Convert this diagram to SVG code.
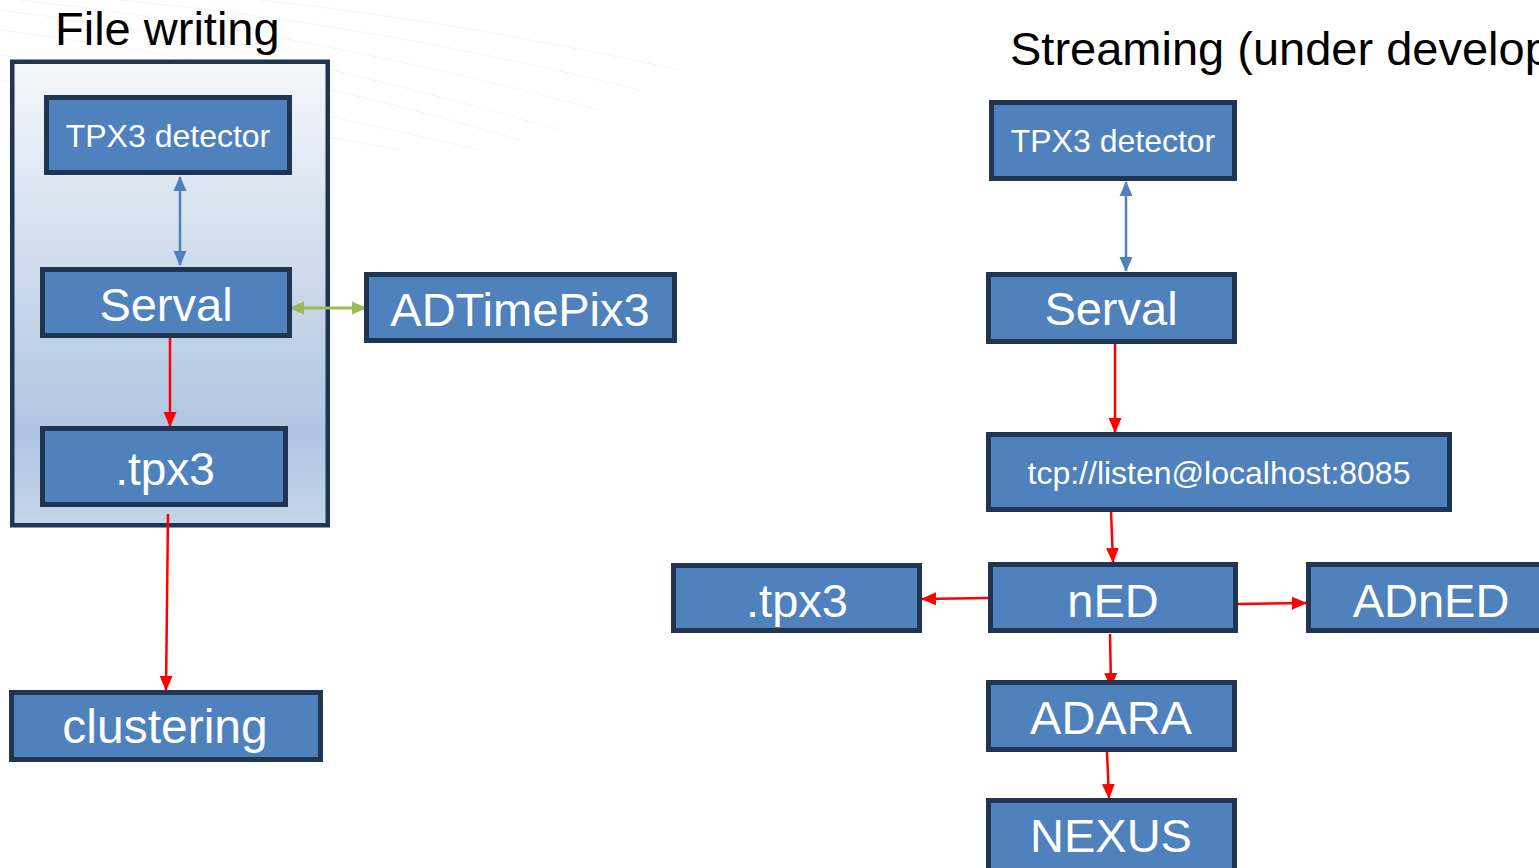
<svg xmlns="http://www.w3.org/2000/svg" width="1539" height="868" viewBox="0 0 1539 868">
<style>
.box{fill:#4F81BD;stroke:#1F3552;stroke-width:5}
.t{font-family:"Liberation Sans",Arial,sans-serif;fill:#fff;text-anchor:middle}
.title{font-family:"Liberation Sans",Arial,sans-serif;fill:#000;font-size:47px}
.red{stroke:#FF0000;stroke-width:2.5;fill:none}
.blue{stroke:#4F81BD;stroke-width:2.5;fill:none}
.green{stroke:#9BBB59;stroke-width:3;fill:none}
.bg{stroke:#F3F4F6;stroke-width:1;fill:none}
</style>
<defs>
<linearGradient id="cg" x1="0" y1="0" x2="0" y2="1">
<stop offset="0" stop-color="#F5F8FC"/>
<stop offset="0.8" stop-color="#AFC5E1"/>
<stop offset="1" stop-color="#C6D6EA"/>
</linearGradient>
<marker id="ar" markerUnits="userSpaceOnUse" markerWidth="15" markerHeight="15" viewBox="0 0 15 15" refX="14" refY="7.5" orient="auto-start-reverse">
<path d="M0,1 L15,7.5 L0,14 Z" fill="#FF0000"/>
</marker>
<marker id="ab" markerUnits="userSpaceOnUse" markerWidth="15" markerHeight="15" viewBox="0 0 15 15" refX="14" refY="7.5" orient="auto-start-reverse">
<path d="M0,1 L15,7.5 L0,14 Z" fill="#4F81BD"/>
</marker>
<marker id="ag" markerUnits="userSpaceOnUse" markerWidth="15" markerHeight="15" viewBox="0 0 15 15" refX="14" refY="7.5" orient="auto-start-reverse">
<path d="M0,1 L15,7.5 L0,14 Z" fill="#9BBB59"/>
</marker>
</defs>
<rect width="1539" height="868" fill="#fff"/>
<g id="background-lines">
<path class="bg" d="M0,10 Q250,40 560,130"/>
<path class="bg" d="M0,30 Q250,60 520,140"/>
<path class="bg" d="M0,55 Q200,85 480,150"/>
<path class="bg" d="M0,80 Q150,105 400,150"/>
<path class="bg" d="M20,0 Q300,30 600,110"/>
<path class="bg" d="M120,0 Q380,25 640,90"/>
<path class="bg" d="M260,0 Q450,20 680,70"/>
</g>
<text class="title" x="55" y="45">File writing</text>
<text class="title" x="1010" y="65">Streaming (under development)</text>
<g id="container-file-writing">
<rect x="12.25" y="61.75" width="315.5" height="463.5" fill="url(#cg)" stroke="#1F3552" stroke-width="4.5"/>
</g>
<g id="connectors">
<line class="blue" x1="180" y1="177" x2="180" y2="265" marker-start="url(#ab)" marker-end="url(#ab)"/>
<line class="green" x1="290" y1="308" x2="366" y2="308" marker-start="url(#ag)" marker-end="url(#ag)"/>
<line class="red" x1="170" y1="338" x2="170" y2="426" marker-end="url(#ar)"/>
<line class="red" x1="168" y1="514" x2="166" y2="690" marker-end="url(#ar)"/>
<line class="blue" x1="1126" y1="182" x2="1126" y2="271" marker-start="url(#ab)" marker-end="url(#ab)"/>
<line class="red" x1="1115" y1="339" x2="1115" y2="432" marker-end="url(#ar)"/>
<line class="red" x1="1111" y1="511" x2="1113" y2="562" marker-end="url(#ar)"/>
<line class="red" x1="988" y1="598" x2="922" y2="599" marker-end="url(#ar)"/>
<line class="red" x1="1238" y1="604" x2="1306" y2="603" marker-end="url(#ar)"/>
<line class="red" x1="1110" y1="634" x2="1111" y2="687" marker-end="url(#ar)"/>
<line class="red" x1="1107" y1="752" x2="1109" y2="798" marker-end="url(#ar)"/>
</g>
<g id="fw-tpx3-detector">
<rect class="box" x="46.5" y="97.5" width="243" height="75"/>
<text class="t" x="168" y="147" font-size="32">TPX3 detector</text>
</g>
<g id="fw-serval">
<rect class="box" x="42.5" y="269.5" width="247" height="66"/>
<text class="t" x="166" y="321" font-size="47">Serval</text>
</g>
<g id="adtimepix3">
<rect class="box" x="366.5" y="274.5" width="308" height="66"/>
<text class="t" x="520" y="326" font-size="47">ADTimePix3</text>
</g>
<g id="fw-tpx3-file">
<rect class="box" x="42.5" y="428.5" width="243" height="76"/>
<text class="t" x="165" y="485" font-size="46">.tpx3</text>
</g>
<g id="clustering">
<rect class="box" x="11.5" y="692.5" width="309" height="67"/>
<text class="t" x="165" y="743" font-size="48">clustering</text>
</g>
<g id="st-tpx3-detector">
<rect class="box" x="991.5" y="102.5" width="243" height="76"/>
<text class="t" x="1113" y="152" font-size="32">TPX3 detector</text>
</g>
<g id="st-serval">
<rect class="box" x="988.5" y="274.5" width="246" height="67"/>
<text class="t" x="1111" y="325" font-size="47">Serval</text>
</g>
<g id="tcp">
<rect class="box" x="988.5" y="434.5" width="461" height="75"/>
<text class="t" x="1219" y="484" font-size="32">tcp://listen@localhost:8085</text>
</g>
<g id="ned">
<rect class="box" x="990.5" y="564.5" width="245" height="66"/>
<text class="t" x="1113" y="617" font-size="47">nED</text>
</g>
<g id="st-tpx3-file">
<rect class="box" x="673.5" y="565.5" width="246" height="65"/>
<text class="t" x="797" y="617" font-size="47">.tpx3</text>
</g>
<g id="adned">
<rect class="box" x="1308.5" y="564.5" width="240" height="66"/>
<text class="t" x="1431" y="617" font-size="47">ADnED</text>
</g>
<g id="adara">
<rect class="box" x="988.5" y="682.5" width="246" height="67"/>
<text class="t" x="1111" y="734" font-size="47">ADARA</text>
</g>
<g id="nexus">
<rect class="box" x="988.5" y="800.5" width="246" height="70"/>
<text class="t" x="1111" y="852" font-size="47">NEXUS</text>
</g>
</svg>
